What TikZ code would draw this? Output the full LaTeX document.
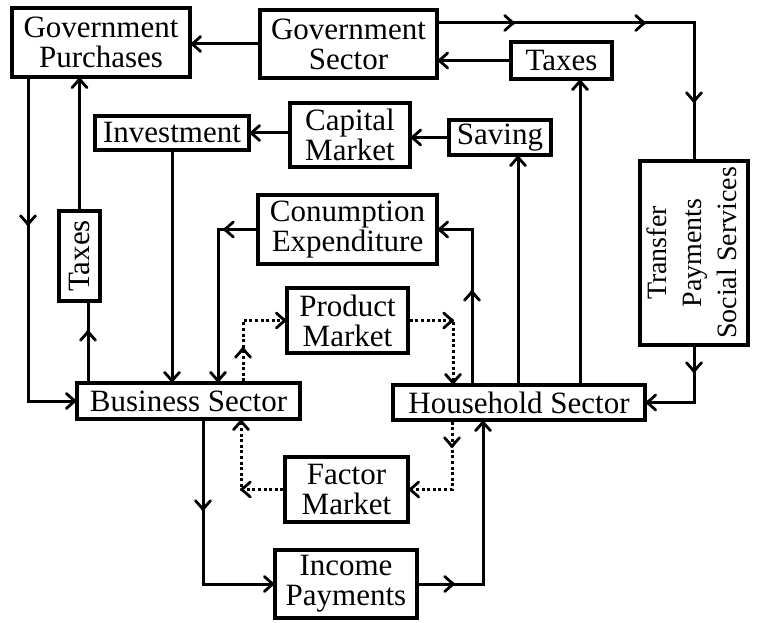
\documentclass[tikz,border=0pt]{standalone}
\usepackage{graphicx}
\usepackage{fontspec}
\setmainfont{Liberation Serif}
\usetikzlibrary{decorations.markings}

% open, slightly curved chevron drawn at a marking, pointing along the path
\newcommand\chevmark{%
  \draw[solid, line width=2.8pt, line cap=round, line join=round]
    (-9pt,7.5pt) .. controls (-5pt,4pt) and (-2pt,1pt) .. (0pt,0pt)
    .. controls (-2pt,-1pt) and (-5pt,-4pt) .. (-9pt,-7.5pt);}

\begin{document}
\begin{tikzpicture}[x=1pt, y=-1pt,
  box/.style={draw, line width=3.4pt, inner sep=0pt, align=center,
              font=\fontsize{31}{30}\selectfont},
  plain/.style={line width=3pt},
  mid/.style={postaction={decorate, decoration={markings,
              mark=at position #1 with {\chevmark}}}},
  link/.style={plain, mid=0.999999},
  dots/.style={link, dash pattern=on 3pt off 2.6pt},
]
\useasboundingbox (0,0) rectangle (763,623);

% ---- boxes ----
\node[box, minimum width=178pt, minimum height=69pt] (gp)  at (101,42.5)  {Government\\Purchases};
\node[box, minimum width=177pt, minimum height=68pt] (gs)  at (348.5,44)  {Government\\Sector};
\node[box, minimum width=101pt, minimum height=37pt] (tx1) at (561.5,60.5) {Taxes};
\node[box, minimum width=154pt, minimum height=34pt] (inv) at (172,133)   {Investment};
\node[box, minimum width=120pt, minimum height=64pt] (cm)  at (350,135)   {Capital\\Market};
\node[box, minimum width=102pt, minimum height=35pt] (sav) at (500,137.5) {Saving};
\node[box, minimum width=179pt, minimum height=69pt] (ce)  at (347.5,229.5) {Conumption\\Expenditure};
\node[box, minimum width=121pt, minimum height=65pt] (pm)  at (347.5,320.5) {Product\\Market};
\node[box, minimum width=223pt, minimum height=36pt] (bs)  at (188.5,401) {Business Sector};
\node[box, minimum width=252pt, minimum height=35pt] (hs)  at (519,402.5) {Household Sector};
\node[box, minimum width=108pt, minimum height=184pt] (tp) at (694,253)
  {\rotatebox{90}{\fontsize{28}{35}\selectfont
   \begin{tabular}{@{}c@{}}Transfer\\Payments\\Social Services\end{tabular}}};
\node[box, minimum width=41pt, minimum height=90pt] (tx2)  at (79.5,256)  {\rotatebox{90}{Taxes}};
\node[box, minimum width=123pt, minimum height=65pt] (fm)  at (346.5,489.5) {Factor\\Market};
\node[box, minimum width=142pt, minimum height=68pt] (ip)  at (346,584)   {Income\\Payments};

% ---- rails for the connectors ----
\coordinate (leftrail) at (28,0);
\coordinate (taxrail)  at (88,0);
\coordinate (ipdown)   at (203,0);
\coordinate (cedown)   at (218,0);
\coordinate (fmup)     at (241,0);
\coordinate (pmup)     at (243,0);
\coordinate (fmdown)   at (452,0);
\coordinate (pmdown)   at (453,0);
\coordinate (ceup)     at (472,0);
\coordinate (ipup)     at (483,0);
\coordinate (savup)    at (518,0);
\coordinate (taxup)    at (580,0);
\coordinate (toprail)  at (0,23);

% ---- government flows ----
\draw[link] (gs.west) -- (gs.west -| gp.east);
\draw[link, mid=146pt] (gp.south -| leftrail) |- (bs.west);
\draw[plain, mid=50pt] (bs.north -| taxrail) -- (taxrail |- tx2.south);
\draw[link] (tx2.north) -- (tx2.north |- gp.south);
\draw[plain, mid=75pt, mid=206pt, mid=334pt] (gs.east |- toprail) -| (tp.north);
\draw[link] (tx1.west) -- (tx1.west -| gs.east);
\draw[link] (hs.north -| taxup) -- (taxup |- tx1.south);
\draw[link, mid=25pt] (tp.south) |- (hs.east);

% ---- saving and investment ----
\draw[link] (hs.north -| savup) -- (savup |- sav.south);
\draw[link] (sav.west) -- (sav.west -| cm.east);
\draw[link] (inv.east -| cm.west) -- (inv.east);
\draw[link] (inv.south) -- (inv.south |- bs.north);

% ---- consumption ----
\draw[link, mid=92pt] (hs.north -| ceup) |- (ce.east);
\draw[link, mid=32pt] (ce.west) -| (bs.north -| cedown);

% ---- markets (dotted) ----
\draw[dots, mid=33pt] (bs.north -| pmup) |- (pm.west);
\draw[dots, mid=43pt] (pm.east) -| (hs.north -| pmdown);
\draw[dots, mid=25pt] (hs.south -| fmdown) |- (fm.east);
\draw[dots, mid=42pt] (fm.west) -| (bs.south -| fmup);

% ---- income ----
\draw[link, mid=89pt] (bs.south -| ipdown) |- (ip.west);
\draw[link, mid=35pt] (ip.east) -| (hs.south -| ipup);
\end{tikzpicture}
\end{document}
